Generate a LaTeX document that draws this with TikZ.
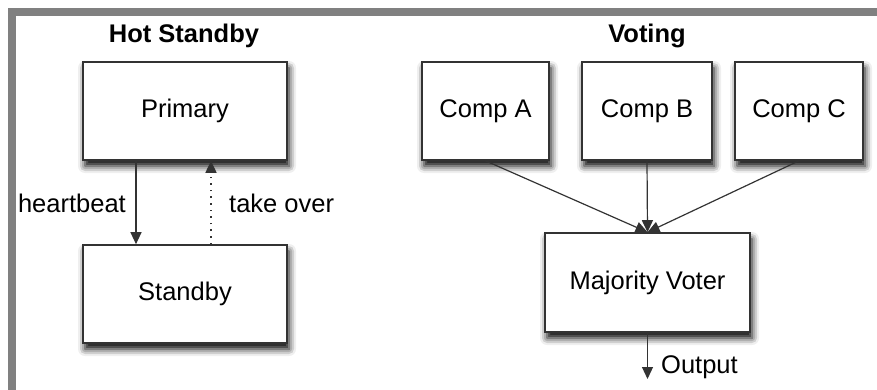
\documentclass[tikz,border=0pt]{standalone}
\usepackage{fontspec}
\setmainfont{Liberation Sans}
\usetikzlibrary{arrows.meta,shadows.blur}
\definecolor{framegray}{HTML}{808080}
\definecolor{boxline}{HTML}{333333}
\tikzset{
  box/.style={draw=boxline, line width=1.6pt, fill=white, inner sep=0pt,
    minimum height=98pt, font=\fontsize{25.5}{30}\selectfont,
    blur shadow={shadow xshift=2pt, shadow yshift=-6pt, shadow blur radius=7pt, shadow opacity=100}},
  title/.style={font=\fontsize{25.5}{30}\selectfont\bfseries, inner sep=0pt, anchor=base},
  lbl/.style={font=\fontsize{25.5}{30}\selectfont, inner sep=0pt},
  conn/.style={draw=boxline, line width=1.2pt, -{Triangle[length=12pt,width=11pt]}},
}
\begin{document}
\begin{tikzpicture}[x=1pt,y=-1pt]
\useasboundingbox (0,0) rectangle (877,390);
\fill[framegray] (8,8) rectangle (877,16);
\fill[framegray] (8,8) rectangle (16,390);
% Hot Standby
\node[title] (t1) at (184,43) {Hot Standby};
\node[box, minimum width=204pt] (P) at (185,111) {Primary};
\node[box, minimum width=204pt] (S) at (185,294) {Standby};
\draw[conn] ([xshift=-49pt]P.south) -- ([xshift=-49pt]S.north);
\draw[conn, line width=1.6pt, dash pattern=on 1.6pt off 5pt] ([xshift=26pt]S.north) -- ([xshift=26pt]P.south);
\node[lbl, anchor=base east] (hb) at (126,212) {heartbeat};
\node[lbl, anchor=base west] (to) at (229,212) {take over};
% Voting
\node[title] (t2) at (647,43) {Voting};
\node[box, minimum width=127pt] (A) at (485.5,111) {Comp A};
\node[box, minimum width=130pt] (B) at (647,111) {Comp B};
\node[box, minimum width=128pt] (C) at (799,111) {Comp C};
\node[box, minimum width=205pt, minimum height=99pt] (V) at (647.5,282.5) {Majority Voter};
\draw[conn] (A.south) -- (V.north);
\draw[conn] (B.south) -- (V.north);
\draw[conn] (C.south) -- (V.north);
\coordinate (out) at (647.5,379);
\draw[conn] (V.south) -- (out);
\node[lbl, anchor=base west] (ol) at (661,373) {Output};
\end{tikzpicture}
\end{document}
